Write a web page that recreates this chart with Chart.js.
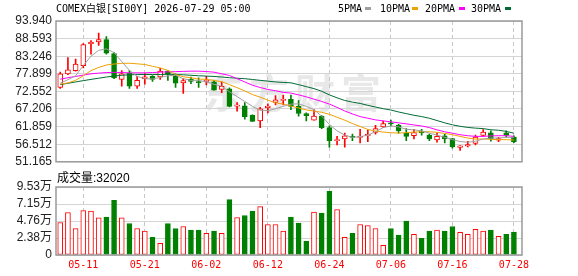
<!DOCTYPE html>
<html>
<head>
<meta charset="utf-8">
<script src="https://cdn.jsdelivr.net/npm/chart.js@4/dist/chart.umd.min.js"></script>
<style>
  body { margin: 0; background: #fff; width: 578px; height: 276px; overflow: hidden; position: relative; }
  #priceBox { position: absolute; left: 0; top: 0; width: 578px; height: 173px; }
  #volBox { position: absolute; left: 0; top: 170px; width: 578px; height: 106px; }
  .txt { position: absolute; white-space: nowrap; color: #000; font-family: "DejaVu Sans Mono", "Noto Sans CJK SC", monospace; font-size: 10px; line-height: 13px; }
  .mk { position: absolute; width: 6px; height: 3px; }
</style>
</head>
<body>
<div id="priceBox"><canvas id="priceChart" width="578" height="173"></canvas></div>
<div id="volBox"><canvas id="volChart" width="578" height="106"></canvas></div>

<div class="txt" style="left:56px;top:2px;">COMEX白银[SI00Y] 2026-07-29 05:00</div>
<div class="txt" style="left:338px;top:2px;">5PMA</div><div class="mk" style="left:365px;top:7px;background:#a0a0a0;"></div>
<div class="txt" style="left:380px;top:2px;">10PMA</div><div class="mk" style="left:412px;top:7px;background:#f0a000;"></div>
<div class="txt" style="left:425px;top:2px;">20PMA</div><div class="mk" style="left:459px;top:7px;background:#ff00ff;"></div>
<div class="txt" style="left:471px;top:2px;">30PMA</div><div class="mk" style="left:505px;top:7px;background:#006b35;"></div>
<div class="txt" style="left:57px;top:171px;font-family:'Liberation Sans','Noto Sans CJK SC',sans-serif;font-size:12px;line-height:14px;">成交量:32020</div>

<script>
// trading days shown on the chart
const dates = ['05-06','05-07','05-08','05-11','05-12','05-13','05-14','05-15','05-18','05-19',
  '05-20','05-21','05-22','05-25','05-26','05-27','05-28','05-29','06-01','06-02',
  '06-03','06-04','06-05','06-08','06-09','06-10','06-11','06-12','06-15','06-16',
  '06-17','06-18','06-19','06-22','06-23','06-24','06-25','06-26','06-29','06-30',
  '07-01','07-02','07-03','07-06','07-07','07-08','07-09','07-10','07-13','07-14',
  '07-15','07-16','07-17','07-20','07-21','07-22','07-23','07-24','07-27','07-28'];

const openP = [73.74, 77.90, 78.88, 80.36, 87.02, 87.61, 88.30, 84.05, 76.20, 78.10,
  74.12, 76.41, 77.10, 76.92, 78.70, 77.30, 75.13, 76.20, 75.40, 75.61,
  75.43, 73.14, 73.30, 68.09, 68.18, 65.33, 63.55, 67.59, 69.19, 69.79,
  70.17, 68.00, 65.80, 63.85, 65.03, 61.56, 57.60, 58.08, 58.88, 58.58,
  59.09, 60.07, 61.77, 63.00, 62.24, 59.87, 59.09, 60.45, 59.27, 57.78,
  59.09, 58.20, 55.53, 56.00, 56.72, 59.18, 59.98, 57.70, 59.98, 58.67];
const highP = [78.40, 82.86, 82.35, 87.11, 88.00, 90.29, 89.19, 84.34, 78.88, 78.88,
  77.10, 78.00, 77.39, 79.59, 78.88, 77.90, 76.41, 76.92, 76.71, 77.10,
  75.90, 75.43, 73.60, 69.19, 69.19, 65.40, 67.71, 68.78, 71.27, 71.45,
  71.45, 69.79, 66.01, 67.00, 65.20, 62.06, 58.88, 59.87, 59.57, 61.05,
  60.87, 62.24, 63.55, 63.85, 62.54, 61.26, 61.05, 61.05, 59.57, 59.87,
  59.57, 58.29, 56.10, 57.40, 59.27, 60.96, 60.60, 58.60, 60.60, 59.09];
const lowP = [73.44, 77.60, 78.70, 79.68, 83.84, 86.51, 83.84, 76.41, 74.12, 73.44,
  73.44, 74.72, 75.61, 76.20, 75.90, 73.74, 71.96, 74.93, 73.74, 74.50,
  72.90, 72.20, 67.80, 66.52, 64.10, 63.40, 61.56, 66.01, 68.48, 68.48,
  67.00, 65.03, 63.55, 63.80, 61.26, 55.62, 56.30, 55.62, 57.60, 56.90,
  57.31, 59.57, 61.56, 62.06, 59.87, 57.60, 58.08, 59.27, 57.60, 57.10,
  56.90, 55.32, 54.64, 55.70, 56.30, 58.97, 57.40, 57.31, 58.67, 57.00];
const closeP = [77.90, 79.09, 80.87, 86.81, 87.49, 88.30, 84.14, 76.62, 77.90, 74.12,
  75.90, 77.00, 76.20, 78.70, 77.69, 75.08, 75.82, 75.61, 75.20, 75.90,
  72.94, 74.12, 68.00, 68.39, 64.90, 63.43, 67.29, 68.09, 69.96, 70.17,
  68.00, 65.85, 65.21, 65.03, 61.56, 57.60, 57.90, 59.09, 58.58, 58.88,
  59.48, 61.26, 62.75, 62.70, 60.58, 58.88, 60.07, 60.00, 58.08, 58.88,
  58.08, 55.70, 56.00, 56.40, 58.67, 60.16, 58.10, 58.20, 59.18, 57.19];

const ma5 = [75.07, 76.11, 77.30, 80.42, 83.24, 85.03, 85.47, 84.34, 81.61, 78.94,
  77.15, 76.41, 76.32, 76.80, 77.30, 77.45, 76.41, 75.91, 75.91, 75.43,
  74.72, 74.12, 72.46, 70.97, 69.49, 68.00, 66.81, 66.70, 67.29, 68.00,
  68.69, 68.78, 68.00, 66.99, 65.03, 62.54, 60.57, 59.27, 58.59, 58.79,
  59.27, 60.28, 61.56, 62.06, 61.76, 61.05, 60.87, 60.57, 59.86, 59.27,
  58.59, 57.90, 57.31, 57.10, 57.40, 58.08, 58.38, 58.38, 58.59, 58.59];
const ma10 = [74.78, 75.13, 75.91, 77.30, 78.88, 79.83, 80.57, 80.87, 81.08, 81.10,
  80.93, 80.72, 80.18, 79.68, 78.94, 77.70, 77.00, 76.70, 76.30, 76.20,
  75.90, 75.50, 74.60, 73.70, 72.70, 71.60, 70.80, 69.90, 69.10, 68.70,
  68.10, 67.50, 66.90, 66.60, 66.20, 65.60, 64.70, 63.80, 62.80, 61.90,
  61.00, 60.50, 60.20, 60.00, 59.90, 60.00, 60.20, 60.30, 60.30, 60.10,
  59.80, 59.40, 58.88, 58.38, 58.08, 58.10, 58.00, 57.90, 57.90, 57.78];
const ma20 = [76.26, 76.71, 77.09, 77.51, 77.90, 78.10, 78.28, 78.34, 78.28, 78.19,
  78.19, 78.19, 78.28, 78.40, 78.49, 78.55, 78.64, 78.70, 78.70, 78.58,
  78.40, 77.90, 77.39, 76.41, 75.43, 74.42, 73.74, 73.14, 72.76, 72.25,
  72.04, 71.50, 70.90, 70.20, 69.50, 68.70, 67.70, 66.60, 65.70, 64.90,
  64.40, 63.90, 63.60, 63.30, 63.00, 62.70, 62.36, 62.06, 61.56, 60.87,
  60.28, 59.86, 59.39, 59.09, 58.88, 58.88, 59.03, 59.09, 59.09, 58.88];
const ma30 = [74.63, 75.01, 75.43, 75.82, 76.20, 76.56, 76.92, 77.21, 77.45, 77.60,
  77.66, 77.69, 77.69, 77.69, 77.75, 77.69, 77.60, 77.45, 77.30, 77.21,
  77.09, 76.92, 76.71, 76.56, 76.41, 76.17, 75.91, 75.67, 75.43, 75.28,
  75.16, 74.60, 74.00, 73.40, 72.60, 71.50, 70.60, 69.80, 69.30, 68.90,
  68.30, 67.80, 67.30, 66.90, 66.30, 65.80, 65.30, 64.90, 64.40, 63.70,
  63.00, 62.40, 61.95, 61.60, 61.40, 61.25, 60.90, 60.75, 60.40, 59.85];

const volume = [45600, 59600, 37200, 62400, 61400, 52100, 53000, 76700, 52100, 44200,
  37200, 33500, 24700, 16300, 44200, 37200, 40000, 34900, 34900, 30300,
  33500, 30300, 77700, 52600, 55400, 61400, 67900, 42800, 42800, 33500,
  53000, 44700, 19500, 60000, 58600, 89300, 63800, 24700, 30300, 42800,
  41400, 37200, 13500, 37200, 27900, 47400, 28900, 23300, 33500, 34900,
  33500, 40000, 31700, 28900, 35900, 33500, 34900, 26100, 28900, 32020];

const priceTicks = [51.165, 56.512, 61.859, 67.206, 72.552, 77.899, 83.246, 88.593, 93.940];
const volTicks = [0, 23825, 47650, 71475, 95300];
const volTickLabels = ['0', '2.38万', '4.76万', '7.15万', '9.53万'];
const dateTickIdx = [3, 11, 19, 27, 35, 43, 51, 59];

const UP = '#ff0000';
const DOWN = '#008000';
const isUp = i => closeP[i] >= openP[i];

const xRange = { min: -0.55, max: 60.05 };
const axisFont = { family: 'Liberation Sans', size: 12 };

const framePlugin = {
  id: 'frame',
  afterDraw(chart) {
    const a = chart.chartArea, g = chart.ctx;
    g.save();
    g.strokeStyle = '#9a9a9a';
    g.lineWidth = 1.5;
    g.strokeRect(a.left, a.top, a.right - a.left, a.bottom - a.top);
    g.restore();
  }
};

const watermark = {
  id: 'watermark',
  beforeDraw(chart) {
    const g = chart.ctx;
    g.save();
    g.fillStyle = '#e8e8e8';
    g.font = 'bold 40px "Noto Sans CJK SC"';
    g.textBaseline = 'middle';
    ['东', '方', '财', '富'].forEach((ch, k) => g.fillText(ch, 203 + k * 46, 93));
    g.restore();
  }
};

function xAxis(showLabels) {
  return {
    type: 'linear',
    min: xRange.min,
    max: xRange.max,
    offset: false,
    bounds: 'data',
    afterBuildTicks: s => { s.ticks = dateTickIdx.map(v => ({ value: v })); },
    afterFit: s => { s.height = showLabels ? 21 : 0; },
    ticks: {
      display: showLabels,
      autoSkip: false,
      maxRotation: 0,
      padding: 4,
      color: '#ff0000',
      font: { family: 'DejaVu Sans Mono', size: 10 },
      callback: v => dates[v]
    },
    grid: { offset: false, color: '#c8c8c8', lineWidth: 1, drawTicks: false },
    border: { display: false, dash: [4, 3] }
  };
}

const idx = dates.map((d, i) => i);

new Chart(document.getElementById('priceChart'), {
  type: 'bar',
  data: {
    datasets: [
      { type: 'line', label: '5PMA', data: idx.map(i => ({ x: i, y: ma5[i] })), borderColor: '#a0a0a0', borderWidth: 1, pointRadius: 0 },
      { type: 'line', label: '10PMA', data: idx.map(i => ({ x: i, y: ma10[i] })), borderColor: '#f0a000', borderWidth: 1, pointRadius: 0 },
      { type: 'line', label: '20PMA', data: idx.map(i => ({ x: i, y: ma20[i] })), borderColor: '#ff00ff', borderWidth: 1, pointRadius: 0 },
      { type: 'line', label: '30PMA', data: idx.map(i => ({ x: i, y: ma30[i] })), borderColor: '#006b35', borderWidth: 1, pointRadius: 0 },
      {
        label: 'body',
        data: idx.map(i => ({ x: i, y: [openP[i], closeP[i]] })),
        backgroundColor: c => isUp(c.dataIndex) ? '#ffffff' : DOWN,
        borderColor: c => isUp(c.dataIndex) ? UP : DOWN,
        borderWidth: 1,
        borderSkipped: false,
        barThickness: 5,
        minBarLength: 1,
        grouped: false
      },
      {
        label: 'wick',
        data: idx.map(i => ({ x: i, y: [lowP[i], highP[i]] })),
        backgroundColor: c => isUp(c.dataIndex) ? UP : DOWN,
        borderWidth: 0,
        barThickness: 1,
        grouped: false
      }
    ]
  },
  options: {
    responsive: false,
    animation: false,
    events: [],
    layout: { padding: { left: 0, right: 56, top: 21, bottom: 8 } },
    plugins: { legend: { display: false }, tooltip: { enabled: false } },
    scales: {
      x: xAxis(false),
      y: {
        position: 'left',
        min: 51.165,
        max: 93.94,
        afterBuildTicks: s => { s.ticks = priceTicks.map(v => ({ value: v })); },
        afterFit: s => { s.width = 56; },
        ticks: { autoSkip: false, padding: 4, color: '#222', font: axisFont, callback: v => v.toFixed(3) },
        grid: { color: '#d4d4d4', drawTicks: false },
        border: { display: false }
      }
    }
  },
  plugins: [watermark, framePlugin]
});

new Chart(document.getElementById('volChart'), {
  type: 'bar',
  data: {
    datasets: [{
      label: '成交量',
      data: idx.map(i => ({ x: i, y: volume[i] })),
      backgroundColor: c => isUp(c.dataIndex) ? '#ffffff' : DOWN,
      borderColor: c => isUp(c.dataIndex) ? UP : DOWN,
      borderWidth: 1,
      borderSkipped: false,
      barThickness: 5,
      grouped: false
    }]
  },
  options: {
    responsive: false,
    animation: false,
    events: [],
    layout: { padding: { left: 0, right: 56, top: 17, bottom: 0 } },
    plugins: { legend: { display: false }, tooltip: { enabled: false } },
    scales: {
      x: xAxis(true),
      y: {
        position: 'left',
        min: 0,
        max: 95300,
        afterBuildTicks: s => { s.ticks = volTicks.map(v => ({ value: v })); },
        afterFit: s => { s.width = 56; },
        ticks: { autoSkip: false, padding: 4, color: '#222', font: { family: 'Liberation Sans, Noto Sans CJK SC', size: 12 }, callback: (v, k) => volTickLabels[k] },
        grid: { color: '#d4d4d4', drawTicks: false },
        border: { display: false }
      }
    }
  },
  plugins: [framePlugin]
});
</script>
</body>
</html>
